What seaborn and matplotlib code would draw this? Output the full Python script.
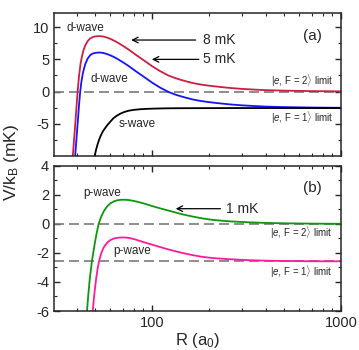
import numpy as np
import pandas as pd
import matplotlib
matplotlib.use("Agg")
import matplotlib.pyplot as plt
import seaborn as sns

# curve data (R in a0, V/kB in mK)
r_red = [38.1, 38.7, 39.4, 40.0, 40.4, 41.1, 41.9, 42.7, 43.5, 44.4, 45.7, 47.1, 48.5, 50.0, 51.6,
         53.3, 55.0, 56.6, 58.8, 61.4, 64.5, 68.0, 71.5, 75.0, 80.0, 85.0, 90.0, 95.0, 100.0, 110.0,
         122.0, 135.0, 150.0, 165.0, 180.0, 200.0, 230.0, 260.0, 300.0, 350.0, 400.0, 500.0, 700.0, 1000.0]
v_red = [-10.0, -7.4, -4.4, -1.7, 0.0, 2.4, 4.4, 5.6, 6.5, 7.2, 7.85, 8.25, 8.45, 8.56, 8.6,
         8.6, 8.55, 8.46, 8.3, 8.06, 7.75, 7.35, 6.95, 6.55, 5.95, 5.4, 4.9, 4.42, 3.95, 3.2,
         2.5, 2.02, 1.63, 1.32, 1.11, 0.92, 0.72, 0.56, 0.42, 0.31, 0.23, 0.15, 0.08, 0.04]

r_blue = [39.2, 39.8, 40.5, 41.1, 41.7, 42.3, 43.0, 43.7, 44.4, 45.7, 47.1, 48.5, 50.0, 51.6,
          53.3, 55.0, 56.6, 58.8, 61.4, 64.5, 68.0, 71.5, 75.0, 80.0, 85.0, 90.0, 95.0, 100.0, 110.0,
          122.0, 135.0, 150.0, 165.0, 180.0, 200.0, 230.0, 260.0, 300.0, 350.0, 400.0, 500.0, 700.0, 1000.0]
v_blue = [-10.0, -7.5, -4.6, -2.1, 0.0, 1.5, 2.75, 3.6, 4.3, 5.15, 5.65, 5.9, 6.0, 6.05,
          6.06, 6.0, 5.91, 5.75, 5.51, 5.2, 4.8, 4.4, 4.0, 3.4, 2.85, 2.35, 1.87, 1.4, 0.65,
          -0.05, -0.53, -0.92, -1.23, -1.44, -1.63, -1.83, -1.99, -2.13, -2.24, -2.32, -2.4, -2.47, -2.51]

r_s = [49.7, 50.5, 51.5, 52.5, 53.5, 55.0, 56.5, 58.0, 60.0, 62.4, 65.0, 68.0, 71.0, 75.0,
       80.0, 86.0, 93.0, 101.0, 115.0, 130.0, 150.0, 200.0, 300.0, 1000.0]
v_s = [-10.0, -9.1, -8.2, -7.45, -6.85, -6.15, -5.65, -5.2, -4.7, -4.15, -3.75, -3.42, -3.18, -2.97,
       -2.83, -2.74, -2.68, -2.64, -2.6, -2.58, -2.57, -2.56, -2.55, -2.55]

r_green = [45.3, 46.0, 46.9, 48.1, 49.7, 51.0, 52.2, 54.0, 55.9, 58.0, 60.2, 63.0, 65.5, 68.0, 71.0,
           75.0, 79.0, 83.0, 90.0, 101.5, 115.0, 129.0, 145.0, 164.0, 185.0, 209.0, 256.0, 329.0,
           400.0, 500.0, 700.0, 1000.0]
v_green = [-6.0, -4.9, -3.72, -2.56, -1.4, -0.6, 0.0, 0.55, 0.93, 1.22, 1.42, 1.56, 1.63, 1.66, 1.67,
           1.65, 1.6, 1.54, 1.42, 1.21, 1.01, 0.84, 0.66, 0.51, 0.38, 0.28, 0.18, 0.11,
           0.07, 0.045, 0.022, 0.01]

r_pink = [48.6, 49.3, 50.0, 50.7, 51.6, 52.6, 54.0, 55.5, 57.8, 60.0, 63.0, 66.0, 70.0, 74.0, 78.0,
          83.0, 90.0, 101.5, 115.0, 129.0, 145.0, 164.0, 185.0, 209.0, 256.0, 329.0, 400.0, 500.0,
          700.0, 1000.0]
v_pink = [-6.0, -5.1, -4.35, -3.72, -3.05, -2.5, -1.98, -1.62, -1.3, -1.12, -1.0, -0.95, -0.93, -0.95, -1.0,
          -1.1, -1.25, -1.45, -1.66, -1.84, -2.0, -2.15, -2.27, -2.35, -2.43, -2.5, -2.53, -2.55,
          -2.57, -2.575]

limit_f2 = 0.0
limit_f1 = -2.58

sns.set_style("ticks")
plt.rcParams['font.family'] = ['Liberation Sans', 'DejaVu Sans']
plt.rcParams['mathtext.fontset'] = 'custom'
plt.rcParams['mathtext.rm'] = 'Liberation Sans'
plt.rcParams['mathtext.it'] = 'Liberation Sans:italic'
plt.rcParams['axes.unicode_minus'] = False

fig = plt.figure(figsize=(3.59, 3.5), dpi=100)
ax1 = fig.add_axes([0.1504, 0.554, 0.7996, 0.409])
ax2 = fig.add_axes([0.1504, 0.1114, 0.7996, 0.4146])

red = "#cc1f40"
blue = "#1414ff"
green = "#0e960e"
pink = "#ff1a9c"
dash_col = "#7a7a7a"

# top panel
ax1.axhline(limit_f2, color=dash_col, lw=1.2, ls=(0, (6, 3)))
sns.lineplot(x=r_red, y=v_red, ax=ax1, color=red, lw=1.3)
sns.lineplot(x=r_blue, y=v_blue, ax=ax1, color=blue, lw=1.3)
sns.lineplot(x=r_s, y=v_s, ax=ax1, color="black", lw=1.3)

ax1.text(44.2, 9.8, "d-wave", fontsize=8.5, ha="center", va="center")
ax1.text(59.2, 2.0, "d-wave", fontsize=8.5, ha="center", va="center")
ax1.text(83.8, -5.0, "s-wave", fontsize=8.5, ha="center", va="center")
ax1.annotate("", xy=(75, 8.0), xytext=(176, 8.0),
             arrowprops=dict(arrowstyle="->", color="black", lw=0.9))
ax1.text(186, 8.0, "8 mK", fontsize=10, ha="left", va="center")
ax1.annotate("", xy=(96.5, 5.0), xytext=(183, 5.0),
             arrowprops=dict(arrowstyle="->", color="black", lw=0.9))
ax1.text(186, 5.0, "5 mK", fontsize=10, ha="left", va="center")
ax1.text(0.972, 0.524, r"$|e$, F = 2$\rangle$ limit", transform=ax1.transAxes,
         fontsize=7, ha="right", va="center")
ax1.text(0.972, 0.264, r"$|e$, F = 1$\rangle$ limit", transform=ax1.transAxes,
         fontsize=7, ha="right", va="center")
ax1.text(0.90, 0.84, "(a)", transform=ax1.transAxes, fontsize=11, ha="center", va="center")

# bottom panel
ax2.axhline(limit_f2, color=dash_col, lw=1.2, ls=(0, (6, 3)))
ax2.axhline(limit_f1, color=dash_col, lw=1.2, ls=(0, (6, 3)))
sns.lineplot(x=r_green, y=v_green, ax=ax2, color=green, lw=1.3)
sns.lineplot(x=r_pink, y=v_pink, ax=ax2, color=pink, lw=1.3)

ax2.text(54.7, 2.16, "p-wave", fontsize=8.5, ha="center", va="center")
ax2.text(78.4, -1.86, "p-wave", fontsize=8.5, ha="center", va="center")
ax2.annotate("", xy=(129, 1.05), xytext=(238, 1.05),
             arrowprops=dict(arrowstyle="->", color="black", lw=0.9))
ax2.text(246, 1.05, "1 mK", fontsize=10, ha="left", va="center")
ax2.text(0.971, 0.539, r"$|e$, F = 2$\rangle$ limit", transform=ax2.transAxes,
         fontsize=7, ha="right", va="center")
ax2.text(0.971, 0.27, r"$|e$, F = 1$\rangle$ limit", transform=ax2.transAxes,
         fontsize=7, ha="right", va="center")
ax2.text(0.90, 0.846, "(b)", transform=ax2.transAxes, fontsize=11, ha="center", va="center")

for ax in (ax1, ax2):
    ax.set_xscale("log")
    ax.set_xlim(30.3, 1000)
    ax.tick_params(which="both", direction="in", top=True, right=True, labelsize=10.5)
    ax.tick_params(which="major", length=4.5, width=1)
    ax.tick_params(which="minor", length=2.5, width=0.8)
    for sp in ax.spines.values():
        sp.set_linewidth(1.1)
    ax.set_ylabel("")
    ax.set_xlabel("")

ax1.set_ylim(-10, 12.2)
ax1.set_yticks([-5, 0, 5, 10])
ax1.set_yticks(np.arange(-7.5, 12.5, 2.5), minor=True)
ax1.set_xticks([100, 1000])
ax1.tick_params(axis="x", which="both", labelbottom=False)

ax2.set_ylim(-6, 4)
ax2.set_yticks([-6, -4, -2, 0, 2, 4])
ax2.set_yticks(np.arange(-5, 4, 1), minor=True)
ax2.set_xticks([100, 1000])
ax2.set_xticklabels(["100", "1000"])
ax2.set_xlabel(r"R (a$_\mathrm{0}$)", fontsize=12, labelpad=1)

fig.text(0.033, 0.535, r"V/k$_\mathrm{B}$ (mK)", rotation=90, fontsize=12.5, ha="center", va="center")

fig.savefig("out.png", dpi=100)
